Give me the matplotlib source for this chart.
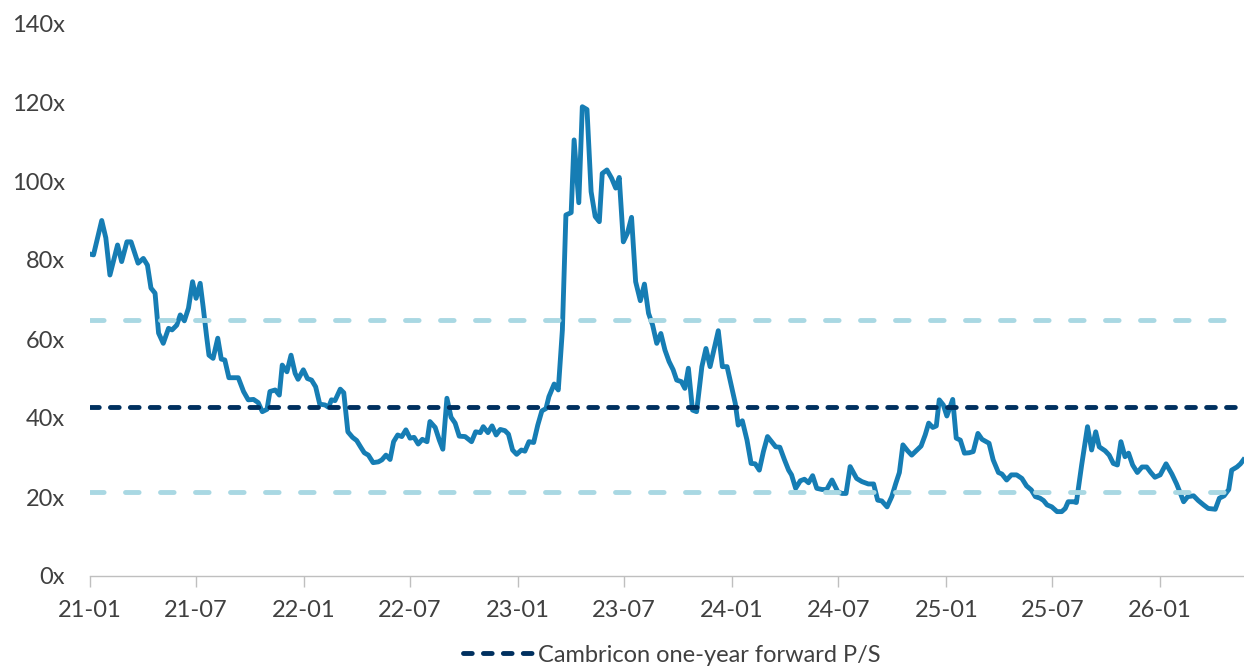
import numpy as np
import pandas as pd
import matplotlib
matplotlib.use("Agg")
import matplotlib.pyplot as plt

#Data (days after 2021-01-01, forward P/S multiple)

start_date = pd.Timestamp("2021-01-01")

days = [0, 6, 20, 27, 34, 47, 54, 63, 70, 82, 91, 98, 104, 111, 117, 125, 134, 140, 148, 154,
        161, 168, 175, 181, 188, 193, 199, 203, 210, 218, 224, 230, 237, 253, 262, 270, 279, 287, 294, 302,
        307, 316, 323, 328, 336, 343, 350, 355, 364, 371, 378, 385, 392, 401, 407, 412, 418, 427, 433, 440,
        448, 455, 462, 468, 475, 483, 492, 498, 505, 512, 518, 525, 532, 539, 546, 553, 560, 567, 575, 580,
        589, 596, 602, 609, 616, 623, 630, 640, 651, 658, 666, 671, 679, 686, 693, 700, 708, 714, 721, 728,
        736, 742, 749, 757, 764, 771, 778, 783, 792, 799, 806, 812, 821, 826, 834, 840, 848, 855, 862, 869,
        874, 882, 890, 897, 903, 910, 917, 924, 931, 939, 946, 953, 960, 967, 974, 981, 988, 995, 1001, 1009,
        1015, 1021, 1028, 1035, 1044, 1051, 1058, 1065, 1072, 1079, 1087, 1094, 1101, 1106, 1113, 1121, 1128, 1135, 1142, 1149,
        1156, 1163, 1170, 1177, 1185, 1192, 1197, 1204, 1212, 1219, 1226, 1233, 1240, 1249, 1257, 1266, 1276, 1283, 1290, 1297,
        1308, 1317, 1328, 1337, 1344, 1351, 1360, 1368, 1375, 1381, 1387, 1395, 1402, 1411, 1418, 1425, 1431, 1438, 1444, 1449,
        1456, 1462, 1472, 1478, 1485, 1492, 1500, 1507, 1515, 1522, 1534, 1541, 1550, 1556, 1564, 1572, 1581, 1590, 1598, 1606,
        1613, 1621, 1627, 1633, 1641, 1650, 1658, 1664, 1669, 1678, 1683, 1692, 1702, 1709, 1716, 1722, 1732, 1739, 1746, 1753,
        1759, 1766, 1772, 1779, 1787, 1795, 1803, 1810, 1817, 1826, 1836, 1846, 1854, 1860, 1866, 1873, 1883, 1891, 1900, 1908,
        1920, 1927, 1935, 1943, 1948, 1957, 1963, 1968]

ps_values = [81.5, 81.3, 90.0, 85.6, 76.2, 83.8, 79.6, 84.6, 84.6, 79.2, 80.4, 78.7, 72.9, 71.6, 61.5, 58.9, 62.7, 62.3, 63.5, 66.1,
             64.6, 67.8, 74.5, 70.3, 74.1, 68.2, 60.6, 55.9, 55.1, 60.2, 54.9, 54.7, 50.2, 50.2, 46.7, 44.6, 44.7, 43.9, 41.6, 42.2,
             46.7, 47.1, 45.8, 53.4, 51.7, 55.9, 51.3, 49.8, 52.2, 50.0, 49.6, 47.9, 43.5, 43.3, 42.7, 44.6, 44.4, 47.3, 46.4, 36.5,
             35.1, 34.3, 32.6, 31.2, 30.6, 28.7, 28.9, 29.4, 30.6, 29.5, 34.0, 35.7, 35.3, 37.0, 34.9, 35.1, 33.4, 34.6, 34.0, 39.1,
             37.6, 34.4, 32.1, 45.0, 40.2, 38.7, 35.4, 35.3, 34.0, 36.5, 36.3, 37.8, 36.3, 38.0, 35.7, 37.1, 36.8, 35.9, 31.9, 30.8,
             31.9, 31.6, 34.0, 33.8, 38.2, 41.8, 42.4, 45.4, 48.6, 47.1, 62.3, 91.4, 92.0, 110.4, 94.5, 118.8, 118.1, 97.3, 91.0, 89.7,
             101.9, 102.8, 100.7, 98.2, 100.9, 84.6, 86.8, 90.8, 74.5, 69.7, 73.9, 66.5, 63.5, 58.9, 61.4, 57.2, 54.3, 52.2, 49.6, 49.2,
             47.5, 52.6, 42.0, 41.6, 53.0, 57.6, 53.0, 57.6, 62.1, 53.0, 53.0, 48.4, 43.7, 38.2, 39.3, 34.4, 28.5, 28.4, 26.8, 31.5,
             35.3, 34.0, 32.7, 32.6, 29.4, 26.8, 25.6, 22.2, 24.1, 24.5, 23.6, 25.4, 22.2, 21.9, 21.9, 24.3, 21.3, 20.9, 20.9, 27.7,
             24.7, 23.9, 23.3, 23.3, 19.2, 19.0, 17.5, 20.1, 23.5, 26.2, 33.2, 31.7, 30.6, 31.9, 32.9, 35.7, 38.7, 37.6, 38.0, 44.6,
             43.3, 40.5, 44.7, 34.9, 34.4, 31.1, 31.2, 31.5, 36.1, 34.6, 33.6, 29.4, 26.2, 25.8, 24.3, 25.6, 25.6, 24.7, 22.8, 21.8,
             20.1, 19.7, 19.1, 18.0, 17.5, 16.3, 16.3, 17.1, 18.8, 18.8, 18.6, 28.1, 37.8, 31.9, 36.5, 32.7, 31.7, 30.6, 28.5, 28.1,
             34.0, 30.2, 31.1, 28.1, 26.2, 27.6, 27.6, 26.2, 25.0, 25.6, 28.4, 25.8, 23.3, 21.1, 18.8, 20.1, 20.3, 19.1, 18.0, 17.1,
             16.9, 19.7, 20.3, 21.9, 26.8, 27.6, 28.4, 29.4]

mean_ps = 42.8
plus_1sd = 64.8
minus_1sd = 21.3

tick_labels = ["21-01", "21-07", "22-01", "22-07", "23-01", "23-07",
               "24-01", "24-07", "25-01", "25-07", "26-01"]
y_ticks = [0, 20, 40, 60, 80, 100, 120, 140]

#Building the series
dates = start_date + pd.to_timedelta(days, unit="D")
DF_PS = pd.DataFrame({"ps": ps_values}, index=dates)
tick_dates = pd.to_datetime(["20" + t + "-01" for t in tick_labels])

plt.rcParams["font.family"] = ["Lato", "DejaVu Sans"]

fig = plt.figure(figsize=(12.44, 6.67), dpi=100)
ax = fig.add_axes([90 / 1244, 91 / 667, 1 - 90 / 1244, 553 / 667])

lw = 3.5
ax.plot(DF_PS.index, DF_PS["ps"], color="#167DB4", linewidth=lw, zorder=2,
        solid_joinstyle="round")

ax.axhline(plus_1sd, color="#A9D8E3", linewidth=lw, dashes=(2.8, 4.4),
           dash_capstyle="round", zorder=3)
ax.axhline(minus_1sd, color="#A9D8E3", linewidth=lw, dashes=(2.8, 4.4),
           dash_capstyle="round", zorder=3)
ax.axhline(mean_ps, color="#00305F", linewidth=lw, dashes=(1.8, 2.3),
           dash_capstyle="round", zorder=3, label="Cambricon one-year forward P/S")

ax.set_xlim(start_date, start_date + pd.Timedelta(days=1969))
ax.set_ylim(0, 140)

ax.set_yticks(y_ticks)
ax.set_yticklabels([str(v) + "x" for v in y_ticks])
ax.set_xticks(tick_dates)
ax.set_xticklabels(tick_labels)

for s in ["top", "right", "left"]:
    ax.spines[s].set_visible(False)
ax.spines["bottom"].set_color("#BFBFBF")
ax.spines["bottom"].set_linewidth(1.0)

ax.tick_params(axis="y", length=0, pad=18, labelsize=17, labelcolor="#404040")
ax.tick_params(axis="x", length=8, width=1.0, color="#BFBFBF", pad=9,
               labelsize=17, labelcolor="#404040")

fig.legend(loc="center", bbox_to_anchor=(672 / 1244, 12 / 667), frameon=False,
           fontsize=17, handlelength=3.0, handletextpad=0.2, labelcolor="#404040")

fig.savefig("out.png", dpi=100)
